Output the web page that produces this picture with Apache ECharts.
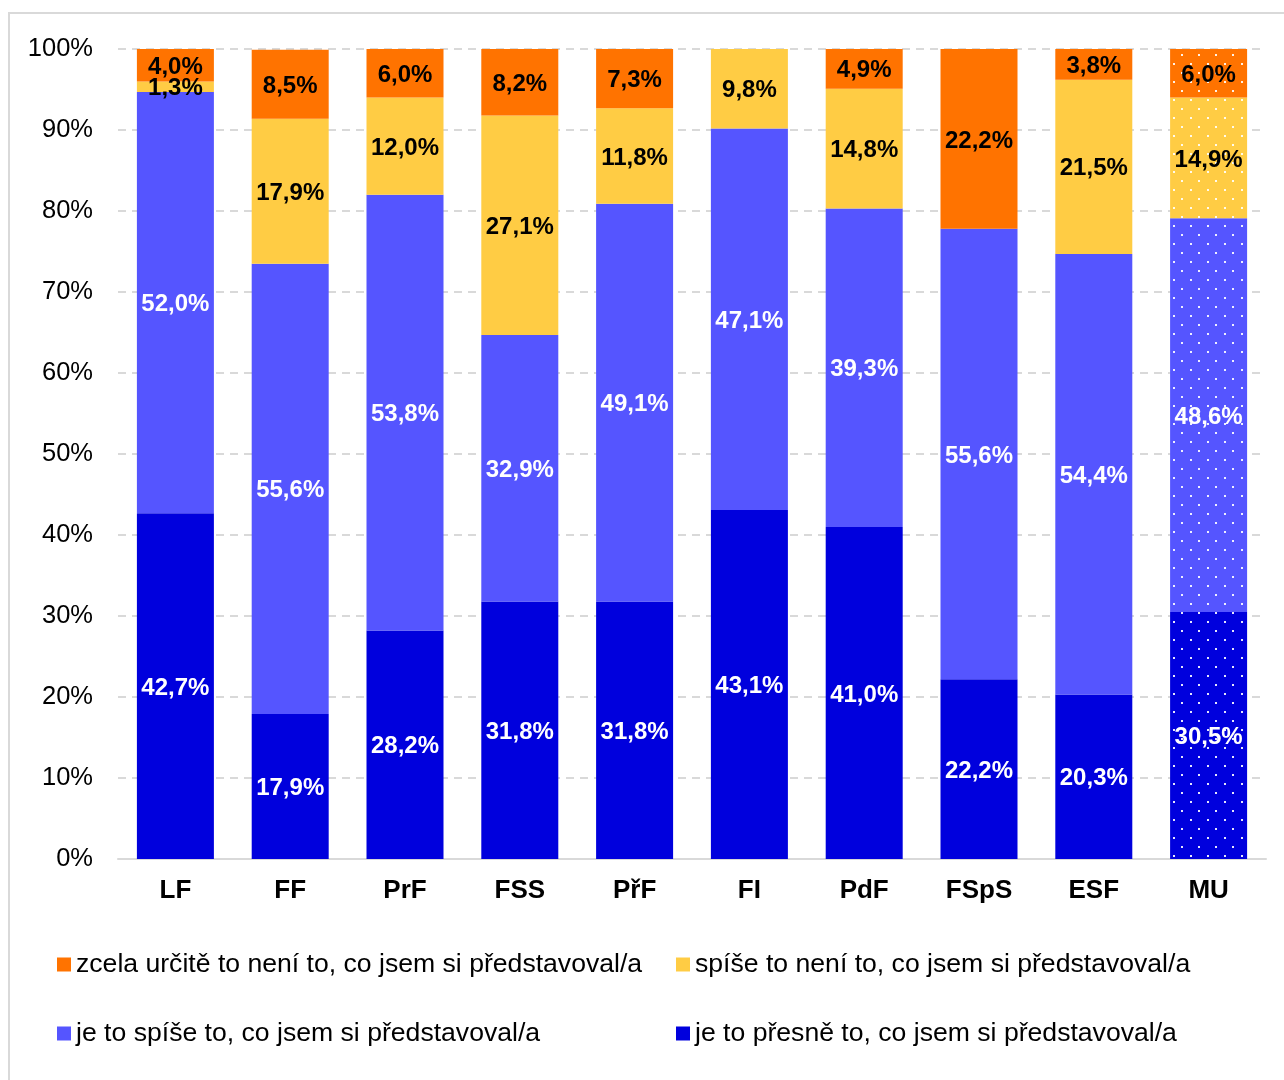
<!DOCTYPE html>
<html><head><meta charset="utf-8">
<script src="https://cdn.jsdelivr.net/npm/echarts@6/dist/echarts.min.js"></script>
<style>html,body{margin:0;padding:0;background:#fff}#c{width:1284px;height:1080px}</style>
</head><body><div id="c"></div>
<script>
const categories = ['LF','FF','PrF','FSS','PřF','FI','PdF','FSpS','ESF','MU'];
const seriesNames = [
  'zcela určitě to není to, co jsem si představoval/a',
  'spíše to není to, co jsem si představoval/a',
  'je to spíše to, co jsem si představoval/a',
  'je to přesně to, co jsem si představoval/a'
];
const presne  = [42.7,17.9,28.2,31.8,31.8,43.1,41.0,22.2,20.3,30.5];
const spise   = [52.0,55.6,53.8,32.9,49.1,47.1,39.3,55.6,54.4,48.6];
const spiseNe = [1.3,17.9,12.0,27.1,11.8,9.8,14.8,0,21.5,14.9];
const zcelaNe = [4.0,8.5,6.0,8.2,7.3,0,4.9,22.2,3.8,6.0];
const yTicks = [0,10,20,30,40,50,60,70,80,90,100];

const colors = ['#FF7300','#FFCC44','#5555FF','#0000DD'];
const font = 'Liberation Sans, Arial, sans-serif';
const decal = {symbol:'rect', symbolSize:1, color:'rgba(255,255,255,0.9)',
  dashArrayX:[[2,15],[0,8,2,7]], dashArrayY:[2,6.5]};

function mk(name, vals, color, labelColor){
  return {
    name, type:'bar', stack:'s', barWidth:77,
    itemStyle:{color},
    data: vals.map((v,i)=>{
      const d = {value:v};
      if (categories[i]==='MU') d.itemStyle = {color, decal};
      return d;
    }),
    label:{show:true, position:'inside', offset:[0,2], color:labelColor, fontFamily:font,
      fontWeight:'bold', fontSize:24,
      formatter:p=> p.value>0 ? p.value.toFixed(1).replace('.',',')+'%' : ''}
  };
}

const chart = echarts.init(document.getElementById('c'), null, {renderer:'canvas'});
chart.setOption({
  animation:false,
  backgroundColor:'#fff',
  graphic:[{type:'rect', shape:{x:9,y:13,width:1300,height:1100},
    style:{fill:'none', stroke:'#D9D9D9', lineWidth:2}}],
  grid:{left:118, right:18, top:49, bottom:221, containLabel:false},
  xAxis:{type:'category', data:categories,
    axisLine:{lineStyle:{color:'#D9D9D9', width:2}},
    axisTick:{show:false},
    axisLabel:{color:'#000', fontFamily:font, fontWeight:'bold', fontSize:26, margin:19}},
  yAxis:{type:'value', min:0, max:100, interval:10,
    axisLine:{show:false}, axisTick:{show:false},
    axisLabel:{color:'#000', fontFamily:font, fontSize:25.5, margin:25,
      formatter:v=> yTicks.includes(v) ? v+'%' : ''},
    splitLine:{lineStyle:{color:'#D9D9D9', width:2, type:[8,6]}}},
  legend:[
    {left:57, top:951, data:[seriesNames[0]]},
    {left:676, top:951, data:[seriesNames[1]]},
    {left:57, top:1020, data:[seriesNames[2]]},
    {left:676, top:1020, data:[seriesNames[3]]}
  ].map(l=>Object.assign(l,{icon:'rect', itemWidth:14, itemHeight:14, itemGap:10, padding:0,
    textStyle:{color:'#000', fontFamily:font, fontSize:26.6}})),
  series:[
    mk(seriesNames[3], presne, colors[3], '#fff'),
    mk(seriesNames[2], spise, colors[2], '#fff'),
    mk(seriesNames[1], spiseNe, colors[1], '#000'),
    mk(seriesNames[0], zcelaNe, colors[0], '#000')
  ]
});
</script></body></html>
